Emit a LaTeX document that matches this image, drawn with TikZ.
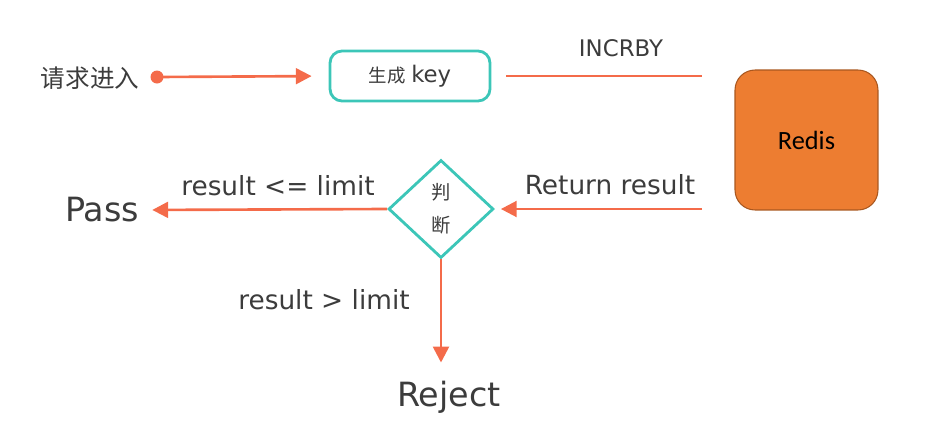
\documentclass[tikz,border=0pt]{standalone}
\usepackage{fontspec}
\setmainfont{DejaVu Sans}
\newfontfamily\cjk{Noto Sans CJK SC}
\newfontfamily\calib{Carlito}
\usetikzlibrary{arrows.meta,shapes.geometric}
\definecolor{coral}{HTML}{F46B4A}
\definecolor{tealc}{HTML}{3CC6B8}
\definecolor{inkc}{HTML}{3C3C3C}
\definecolor{redisfill}{HTML}{ED7D31}
\definecolor{redisdraw}{HTML}{A9571F}
\begin{document}
\begin{tikzpicture}[x=0.02cm,y=-0.02cm,
  flow/.style={draw=coral,line width=1.5pt,-{Triangle[length=9pt,width=9pt]}},
  plainflow/.style={draw=coral,line width=1.5pt},
  lbl/.style={text=inkc,font=\fontsize{15}{17}\selectfont,inner sep=0pt},
  big/.style={text=inkc,font=\fontsize{19}{22}\selectfont,inner sep=0pt},
  keybox/.style={draw=tealc,line width=1.6pt,rounded corners=0.24cm,minimum width=3.2cm,minimum height=1cm,text=inkc},
  judgebox/.style={diamond,draw=tealc,line width=1.6pt,minimum width=2.1cm,minimum height=1.96cm,inner sep=0pt,text=inkc,align=center,font=\cjk\fontsize{11}{12}\selectfont},
  redisbox/.style={draw=redisdraw,fill=redisfill,line width=0.6pt,rounded corners=0.4cm,minimum width=2.86cm,minimum height=2.8cm,font=\calib\fontsize{15}{18}\selectfont},
  dotstyle/.style={circle,fill=coral,minimum size=0.26cm,inner sep=0pt}
]
\useasboundingbox (0,0) rectangle (951,440);

\node[text=inkc,font=\cjk\fontsize{14}{16}\selectfont,inner sep=0pt] (req) at (90,78) {请求进入};
\node[dotstyle] (dot) at (157,77) {};
\node[keybox] (key) at (410,76) {{\cjk\fontsize{10.5}{12}\selectfont 生成}\ {\fontsize{13}{15}\selectfont key}};
\coordinate (incEnd) at (702,76);
\node[lbl,font=\fontsize{13}{15}\selectfont] (incr) at (621,48) {INCRBY};
\node[redisbox] (redis) at (806.5,140) {Redis};

\node[judgebox] (judge) at (441,209) {判\\[7pt]断};
\coordinate (retStart) at (702,209);
\node[lbl] (retlbl) at (610,185) {Return result};

\node[big] (pass) at (102,210) {Pass};
\node[lbl] (le) at (278,186) {result <= limit};

\node[big] (reject) at (449,397) {Reject};
\node[lbl] (gt) at (324,300) {result > limit};

\draw[flow,shorten >=0.34cm] (dot.center) -- (key.west);
\draw[plainflow,shorten <=0.3cm] (key.east) -- (incEnd);
\draw[flow,shorten >=0.12cm] (retStart) -- (judge.east);
\draw[flow,shorten >=0.26cm] (judge.west) -- (pass.east);
\draw[flow,shorten >=0.36cm] (judge.south) -- (judge.south |- reject.north);
\end{tikzpicture}
\end{document}
